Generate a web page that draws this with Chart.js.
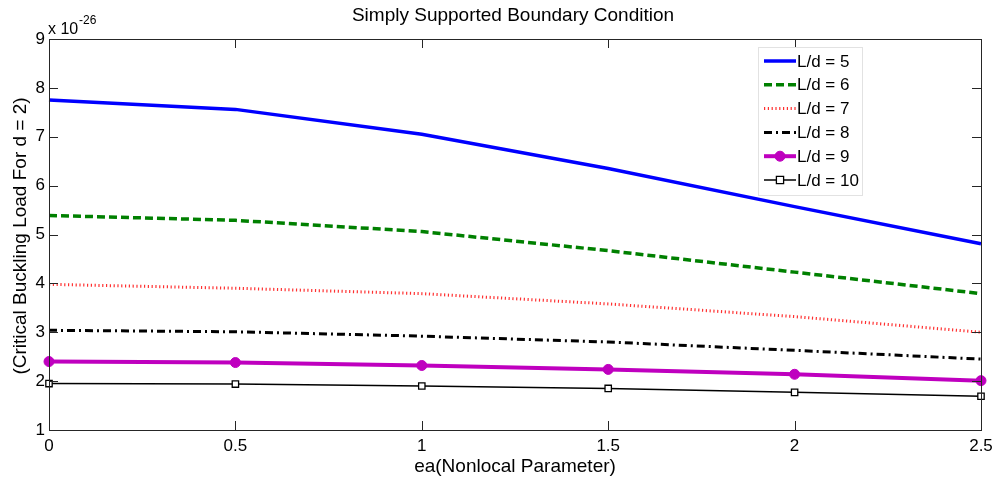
<!DOCTYPE html>
<html>
<head>
<meta charset="utf-8">
<script src="https://cdn.jsdelivr.net/npm/chart.js@4"></script>
<style>
  html, body { margin: 0; padding: 0; background: #fff; }
  #wrap { width: 994px; height: 481px; position: relative; }
</style>
</head>
<body>
<div id="wrap"><canvas id="c" width="994" height="481"></canvas></div>
<script>
// Nonlocal parameter values (x axis)
const ea = [0, 0.5, 1, 1.5, 2, 2.5];

// Critical buckling load (x 10^-26) for each slenderness ratio L/d
const ld5  = [7.75, 7.56, 7.05, 6.35, 5.57, 4.81];
const ld6  = [5.39, 5.29, 5.06, 4.67, 4.23, 3.79];
const ld7  = [3.98, 3.90, 3.79, 3.58, 3.32, 3.00];
const ld8  = [3.04, 3.01, 2.92, 2.80, 2.63, 2.45];
const ld9  = [2.40, 2.38, 2.32, 2.24, 2.14, 2.01];
const ld10 = [1.95, 1.94, 1.90, 1.85, 1.77, 1.69];

const seriesNames = ['L/d = 5', 'L/d = 6', 'L/d = 7', 'L/d = 8', 'L/d = 9', 'L/d = 10'];
const xTicks = [0, 0.5, 1, 1.5, 2, 2.5];
const yTicks = [1, 2, 3, 4, 5, 6, 7, 8, 9];

const FONT = 'Arial, "Liberation Sans", sans-serif';

function pts(arr) { return arr.map((v, i) => ({ x: ea[i], y: v })); }

const datasets = [
  { label: seriesNames[0], data: pts(ld5),  borderColor: '#0000ff', borderWidth: 3.5, pointRadius: 0 },
  { label: seriesNames[1], data: pts(ld6),  borderColor: '#008000', borderWidth: 3.5, borderDash: [8, 4], pointRadius: 0 },
  { label: seriesNames[2], data: pts(ld7),  borderColor: '#ff3030', borderWidth: 3, borderDash: [1.2, 2.6], pointRadius: 0 },
  { label: seriesNames[3], data: pts(ld8),  borderColor: '#000000', borderWidth: 3, borderDash: [8, 4, 2, 4], pointRadius: 0 },
  { label: seriesNames[4], data: pts(ld9),  borderColor: '#bf00bf', borderWidth: 4, pointRadius: 5,
    pointStyle: 'circle', pointBackgroundColor: '#bf00bf', pointBorderColor: '#bf00bf', pointBorderWidth: 1 },
  { label: seriesNames[5], data: pts(ld10), borderColor: '#000000', borderWidth: 1.5, pointRadius: 4.5,
    pointStyle: 'rect', pointBackgroundColor: '#ffffff', pointBorderColor: '#000000', pointBorderWidth: 1.3 }
].map(d => Object.assign({ fill: false, tension: 0, clip: false, pointHoverRadius: d.pointRadius }, d));

// Frame, inward ticks, titles and legend, drawn in MATLAB style
const decor = {
  id: 'decor',
  afterDatasetsDraw(chart) {
    const { ctx, chartArea: a, scales } = chart;
    const xs = scales.x, ys = scales.y;
    const TL = 9;
    ctx.save();
    ctx.strokeStyle = '#262626';
    ctx.lineWidth = 1;
    ctx.setLineDash([]);
    ctx.strokeRect(Math.round(a.left) + 0.5, Math.round(a.top) + 0.5,
                   Math.round(a.right - a.left), Math.round(a.bottom - a.top));
    ctx.beginPath();
    xTicks.forEach(v => {
      const px = Math.round(xs.getPixelForValue(v)) + 0.5;
      ctx.moveTo(px, a.bottom); ctx.lineTo(px, a.bottom - TL);
      ctx.moveTo(px, a.top); ctx.lineTo(px, a.top + TL);
    });
    yTicks.forEach(v => {
      const py = Math.round(ys.getPixelForValue(v)) + 0.5;
      ctx.moveTo(a.left, py); ctx.lineTo(a.left + TL, py);
      ctx.moveTo(a.right, py); ctx.lineTo(a.right - TL, py);
    });
    ctx.stroke();

    // Title
    ctx.fillStyle = '#000';
    ctx.textAlign = 'center';
    ctx.textBaseline = 'middle';
    ctx.font = '19px ' + FONT;
    ctx.fillText('Simply Supported Boundary Condition', 513, 16);

    // Axis titles
    ctx.font = '19px ' + FONT;
    ctx.fillText('ea(Nonlocal Parameter)', (a.left + a.right) / 2, 467);
    ctx.save();
    ctx.translate(21, 236);
    ctx.rotate(-Math.PI / 2);
    ctx.fillText('(Critical Buckling Load For d = 2)', 0, 0);
    ctx.restore();

    // Exponent marker
    ctx.textAlign = 'left';
    ctx.textBaseline = 'alphabetic';
    ctx.font = '16px ' + FONT;
    ctx.fillText('x 10', 48, 34);
    ctx.font = '12px ' + FONT;
    ctx.fillText('-26', 79, 24);

    // Legend
    const lx = 758, ly = 47, lw = 104, lh = 148;
    ctx.fillStyle = '#ffffff';
    ctx.fillRect(lx, ly, lw, lh);
    ctx.strokeStyle = '#e2e2e2';
    ctx.strokeRect(lx + 0.5, ly + 0.5, lw, lh);
    chart.data.datasets.forEach((d, i) => {
      const y = 61 + i * 23.8;
      ctx.save();
      ctx.strokeStyle = d.borderColor;
      ctx.lineWidth = d.borderWidth;
      ctx.setLineDash(d.borderDash || []);
      ctx.beginPath();
      ctx.moveTo(764, y); ctx.lineTo(796, y);
      ctx.stroke();
      ctx.setLineDash([]);
      if (d.pointRadius > 0) {
        ctx.fillStyle = d.pointBackgroundColor;
        ctx.strokeStyle = d.pointBorderColor;
        ctx.lineWidth = d.pointBorderWidth;
        ctx.beginPath();
        if (d.pointStyle === 'rect') {
          const r = d.pointRadius * 0.8;
          ctx.rect(780 - r, y - r, 2 * r, 2 * r);
        } else {
          ctx.arc(780, y, d.pointRadius, 0, Math.PI * 2);
        }
        ctx.fill();
        ctx.stroke();
      }
      ctx.restore();
      ctx.fillStyle = '#000';
      ctx.font = '17px ' + FONT;
      ctx.textBaseline = 'middle';
      ctx.fillText(d.label, 797, y + 1);
    });
    ctx.restore();
  }
};

new Chart(document.getElementById('c'), {
  type: 'line',
  data: { datasets },
  options: {
    responsive: false,
    animation: false,
    events: [],
    layout: { padding: { left: 0, top: 39, right: 13, bottom: 0 } },
    plugins: { legend: { display: false }, tooltip: { enabled: false }, title: { display: false } },
    scales: {
      x: {
        type: 'linear', min: 0, max: 2.5,
        afterFit(s) { s.height = 51; s.paddingLeft = 0; s.paddingRight = 0; },
        afterBuildTicks(s) { s.ticks = xTicks.map(v => ({ value: v })); },
        grid: { display: false, drawTicks: false },
        border: { display: false },
        ticks: { color: '#000', padding: 6, maxRotation: 0, autoSkip: false,
                 font: { family: FONT, size: 17 }, callback: v => String(v) }
      },
      y: {
        type: 'linear', min: 1, max: 9,
        afterFit(s) { s.width = 49; s.paddingTop = 0; s.paddingBottom = 0; },
        afterBuildTicks(s) { s.ticks = yTicks.map(v => ({ value: v })); },
        grid: { display: false, drawTicks: false },
        border: { display: false },
        ticks: { color: '#000', padding: 4, autoSkip: false,
                 font: { family: FONT, size: 17 }, callback: v => String(v) }
      }
    }
  },
  plugins: [decor]
});
</script>
</body>
</html>
